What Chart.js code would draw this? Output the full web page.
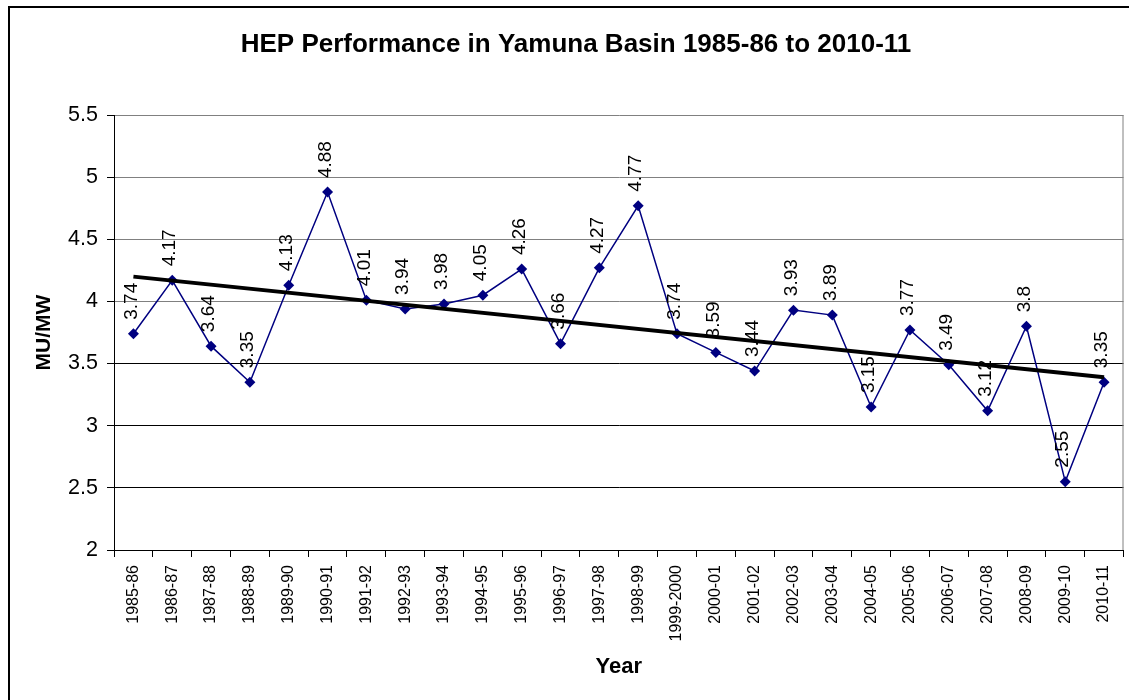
<!DOCTYPE html>
<html>
<head>
<meta charset="utf-8">
<script src="https://cdn.jsdelivr.net/npm/chart.js@4.4.1/dist/chart.umd.min.js"></script>
<style>
  html, body { margin: 0; padding: 0; background: #fff; overflow: hidden; }
  canvas { display: block; }
</style>
</head>
<body>
<canvas id="c" width="1129" height="700"></canvas>
<script>
// ---- data ----
const years = ["1985-86","1986-87","1987-88","1988-89","1989-90","1990-91","1991-92","1992-93","1993-94","1994-95","1995-96","1996-97","1997-98","1998-99","1999-2000","2000-01","2001-02","2002-03","2003-04","2004-05","2005-06","2006-07","2007-08","2008-09","2009-10","2010-11"];
const muPerMw = [3.74,4.17,3.64,3.35,4.13,4.88,4.01,3.94,3.98,4.05,4.26,3.66,4.27,4.77,3.74,3.59,3.44,3.93,3.89,3.15,3.77,3.49,3.12,3.8,2.55,3.35];
const trendEnds = [4.20, 3.39]; // linear trend line values at first and last year
const yTicks = [2, 2.5, 3, 3.5, 4, 4.5, 5, 5.5];

const FONT = "'Liberation Sans', Arial, sans-serif";

const framePlugin = {
  id: 'frame',
  beforeDraw(chart) {
    const c = chart.ctx;
    c.save();
    c.fillStyle = '#fff';
    c.fillRect(0, 0, chart.width, chart.height);
    c.strokeStyle = '#000';
    c.lineWidth = 2;
    c.beginPath();
    c.moveTo(9, chart.height + 2);
    c.lineTo(9, 7);
    c.lineTo(chart.width + 2, 7);
    c.stroke();
    c.restore();
  },
  beforeDatasetsDraw(chart) {
    const a = chart.chartArea;
    const c = chart.ctx;
    c.save();
    c.strokeStyle = '#808080';
    c.lineWidth = 1;
    c.beginPath();
    c.moveTo(a.right - 0.5, a.top);
    c.lineTo(a.right - 0.5, a.bottom);
    c.stroke();
    c.restore();
  }
};

const labelPlugin = {
  id: 'valueLabels',
  afterDatasetsDraw(chart) {
    const idx = chart.data.datasets.findIndex(d => d.label === 'MU/MW');
    const meta = chart.getDatasetMeta(idx);
    const c = chart.ctx;
    c.save();
    c.font = '19px ' + FONT;
    c.fillStyle = '#000';
    c.textAlign = 'left';
    c.textBaseline = 'middle';
    meta.data.forEach((pt, i) => {
      c.save();
      c.translate(pt.x - 2, pt.y - 14);
      c.rotate(-Math.PI / 2);
      c.fillText(String(muPerMw[i]), 0, 0);
      c.restore();
    });
    c.restore();
  }
};

new Chart(document.getElementById('c'), {
  type: 'line',
  data: {
    labels: years,
    datasets: [
      {
        label: 'Trend',
        data: [{x: years[0], y: trendEnds[0]}, {x: years[years.length - 1], y: trendEnds[1]}],
        borderColor: '#000',
        borderWidth: 3.8,
        pointRadius: 0,
        fill: false,
        tension: 0
      },
      {
        label: 'MU/MW',
        data: muPerMw,
        borderColor: '#000080',
        backgroundColor: '#000080',
        borderWidth: 1.5,
        pointStyle: 'rectRot',
        pointRadius: 5.5,
        pointBorderWidth: 0,
        pointBackgroundColor: '#000080',
        fill: false,
        tension: 0
      }
    ]
  },
  options: {
    responsive: false,
    animation: false,
    devicePixelRatio: 1,
    layout: { padding: { left: 24, right: 1, top: 10, bottom: 0 } },
    plugins: {
      legend: { display: false },
      tooltip: { enabled: false },
      title: {
        display: true,
        text: 'HEP Performance in Yamuna Basin 1985-86 to 2010-11',
        color: '#000',
        font: { family: FONT, size: 26, weight: 'bold' },
        padding: { top: 19.4, bottom: 54.4 }
      }
    },
    scales: {
      x: {
        type: 'category',
        offset: true,
        grid: {
          display: true,
          offset: true,
          drawOnChartArea: false,
          drawTicks: true,
          tickLength: 7,
          tickColor: '#000'
        },
        border: { display: true, color: '#000', width: 1 },
        ticks: {
          autoSkip: false,
          maxRotation: 90,
          minRotation: 90,
          padding: 8,
          color: '#000',
          font: { family: FONT, size: 16 }
        },
        title: {
          display: true,
          text: 'Year',
          color: '#000',
          font: { family: FONT, size: 22, weight: 'bold' },
          padding: { top: 0, bottom: 20 }
        },
        afterFit(scale) {
          scale.height = 150;
          scale.paddingLeft = 0;
          scale.paddingRight = 0;
        }
      },
      y: {
        min: yTicks[0],
        max: yTicks[yTicks.length - 1],
        afterBuildTicks(scale) { scale.ticks = yTicks.map(v => ({ value: v })); },
        grid: {
          color: ctx => (ctx.tick && ctx.tick.value >= 4 ? '#808080' : '#000'),
          lineWidth: 1,
          drawTicks: true,
          tickLength: 7,
          tickColor: '#000'
        },
        border: { display: true, color: '#000', width: 1 },
        ticks: {
          padding: 9,
          color: '#000',
          font: { family: FONT, size: 21.5 },
          callback: v => String(v)
        },
        title: {
          display: true,
          text: 'MU/MW',
          color: '#000',
          font: { family: FONT, size: 21, weight: 'bold' },
          padding: { top: 7.4, bottom: 0 }
        },
        afterFit(scale) { scale.width = 90; }
      }
    }
  },
  plugins: [framePlugin, labelPlugin]
});
</script>
</body>
</html>
